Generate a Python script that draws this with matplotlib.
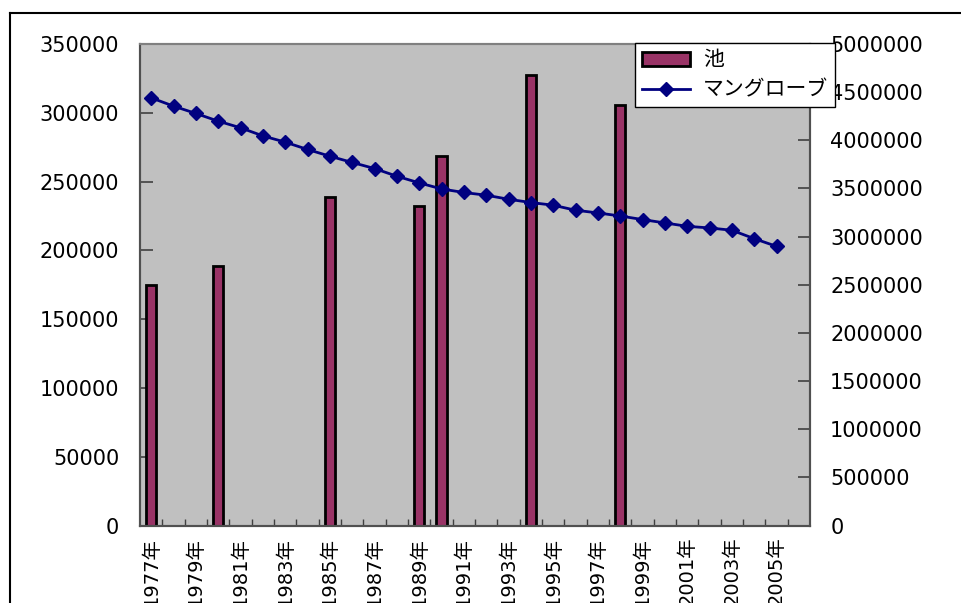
import numpy as np
import matplotlib.pyplot as plt
from matplotlib.lines import Line2D
from matplotlib.ticker import StrMethodFormatter

plt.rcParams['font.family'] = ['DejaVu Sans', 'Noto Sans CJK JP']

years = list(range(1977, 2007))
year_labels = [f"{y}年" for y in years]

# pond area, only surveyed years
pond_years = [1977, 1980, 1985, 1989, 1990, 1994, 1998]
pond_area = [174800, 188600, 238900, 232100, 268500, 327400, 305600]

# mangrove area 1977-2005
mangrove = [4441000, 4355000, 4279000, 4199000, 4130000, 4046000, 3981000,
            3905000, 3835000, 3770000, 3707000, 3627000, 3558000, 3495000,
            3458000, 3430000, 3388000, 3354000, 3326000, 3274000, 3246000,
            3214000, 3177000, 3142000, 3107000, 3090000, 3066000, 2979000,
            2899000]

fig = plt.figure(figsize=(9.61, 6.03), dpi=100)
ax = fig.add_axes([140/961, 1-525.5/603, 670/961, 481.5/603])
ax.set_facecolor('#C0C0C0')

xpos = [years.index(y) for y in pond_years]
bars = ax.bar(xpos, pond_area, width=0.45, color='#993366',
              edgecolor='black', linewidth=2, label='池', zorder=2)
ax.set_ylim(0, 350000)
ax.set_yticks(np.arange(0, 350001, 50000))
ax.set_xlim(-0.5, len(years) - 0.5)

ax2 = ax.twinx()
line, = ax2.plot(range(len(mangrove)), mangrove, color='#000080', lw=2,
                 marker='D', markersize=7.5, label='マングローブ', zorder=3)
ax2.set_ylim(0, 5000000)
ax2.set_yticks(np.arange(0, 5000001, 500000))
ax2.yaxis.set_major_formatter(StrMethodFormatter('{x:.0f}'))

# labels every other year at category centres, ticks at boundaries
ax.set_xticks(range(0, len(years), 2))
ax.set_xticklabels(year_labels[::2], rotation=90, fontsize=14)
ax.set_xticks(np.arange(0.5, len(years) - 0.5, 1), minor=True)
ax.tick_params(axis='x', which='major', length=0, pad=8)
ax.tick_params(axis='x', which='minor', direction='in', length=5,
               width=1, color='#404040')
ax.tick_params(axis='y', direction='in', length=9, width=1.2,
               color='#404040', labelsize=15, pad=15)
ax2.tick_params(axis='y', direction='in', length=9, width=1.2,
                color='#404040', labelsize=15, pad=14.5)

for a in (ax, ax2):
    for s in a.spines.values():
        s.set_color('#505050')
        s.set_linewidth(1.5)
ax.spines['top'].set_color('#808080')
ax2.spines['top'].set_color('#808080')

fig.legend([bars, line], ['池', 'マングローブ'], loc='upper left',
           bbox_to_anchor=(635/961, 1-43/603), fontsize=15,
           frameon=True, fancybox=False, edgecolor='black',
           framealpha=1, borderpad=0.35, handlelength=2.3,
           handleheight=0.6, labelspacing=0.45, handletextpad=0.6,
           borderaxespad=0)

# outer chart border
fig.add_artist(Line2D([10/961, 1], [1-12.7/603, 1-12.7/603],
                      color='black', lw=1.5, transform=fig.transFigure))
fig.add_artist(Line2D([10/961, 10/961], [0, 1-12.7/603],
                      color='black', lw=1.5, transform=fig.transFigure))

fig.savefig('out.png', dpi=100)
